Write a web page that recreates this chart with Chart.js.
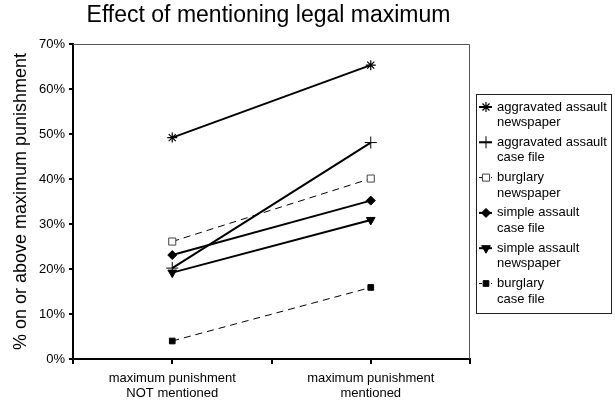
<!DOCTYPE html>
<html>
<head>
<meta charset="utf-8">
<script src="https://cdn.jsdelivr.net/npm/chart.js@4/dist/chart.umd.min.js"></script>
<style>
  body { margin: 0; background: #fff; }
  #wrap { width: 615px; height: 402px; }
</style>
</head>
<body>
<div id="wrap"><canvas id="chart" width="615" height="402"></canvas></div>
<script>
// --- data ---
const categories = [
    ['maximum punishment', 'NOT mentioned'],
    ['maximum punishment', 'mentioned']
];
const seriesNames = [
    ['aggravated assault', 'newspaper'],
    ['aggravated assault', 'case file'],
    ['burglary', 'newspaper'],
    ['simple assault', 'case file'],
    ['simple assault', 'newspaper'],
    ['burglary', 'case file']
];
const aggravatedNewspaper = [49.2, 65.3];
const aggravatedCaseFile = [20.2, 48.1];
const burglaryNewspaper = [26.1, 40.1];
const simpleCaseFile = [23.1, 35.2];
const simpleNewspaper = [19.2, 30.9];
const burglaryCaseFile = [4.0, 15.9];
const yTicks = [0, 10, 20, 30, 40, 50, 60, 70];

const FONT = '"Liberation Sans", Arial, Helvetica, sans-serif';

// categories sit at x = 1 and x = 3 on a 0..4 axis (ticks between them)
function toPoints(values) {
    return values.map((v, i) => ({ x: i * 2 + 1, y: v }));
}

function makeSet(name, values, style, opts) {
    return Object.assign({
        label: name.join(' '),
        legendLines: name,
        data: toPoints(values),
        borderColor: '#000',
        borderWidth: 2,
        pointStyle: style,
        pointRadius: 5,
        pointBorderColor: '#000',
        pointBackgroundColor: '#000',
        pointBorderWidth: 1
    }, opts || {});
}

const datasets = [
    makeSet(seriesNames[0], aggravatedNewspaper, 'star', { pointRadius: 5, pointBorderWidth: 1.2 }),
    makeSet(seriesNames[1], aggravatedCaseFile, 'cross', { pointRadius: 6, pointBorderWidth: 1 }),
    makeSet(seriesNames[2], burglaryNewspaper, 'rect', {
        borderWidth: 1, borderDash: [7, 5],
        pointRadius: 5, pointBackgroundColor: '#fff', pointBorderColor: '#444'
    }),
    makeSet(seriesNames[3], simpleCaseFile, 'rectRot', { pointRadius: 4.5 }),
    makeSet(seriesNames[4], simpleNewspaper, 'triangle', { pointRadius: 5, pointRotation: 180 }),
    makeSet(seriesNames[5], burglaryCaseFile, 'rect', {
        borderWidth: 1, borderDash: [7, 5], pointRadius: 4
    })
];

// title, plot frame and the boxed legend
const decor = {
    id: 'decor',
    beforeDatasetsDraw(chart) {
        const { ctx, chartArea: a } = chart;
        ctx.save();
        ctx.strokeStyle = '#555';
        ctx.lineWidth = 1;
        ctx.beginPath();
        ctx.moveTo(a.left, a.top + 0.5);
        ctx.lineTo(a.right - 0.5, a.top + 0.5);
        ctx.lineTo(a.right - 0.5, a.bottom);
        ctx.stroke();
        ctx.restore();
    },
    afterDraw(chart) {
        const { ctx, chartArea: a } = chart;
        ctx.save();
        ctx.fillStyle = '#000';
        ctx.font = '23px ' + FONT;
        ctx.textAlign = 'center';
        ctx.textBaseline = 'middle';
        ctx.fillText('Effect of mentioning legal maximum', (a.left + a.right) / 2 - 3, 16);

        // legend
        const bx = 476.5, by = 94.5, bw = 135, bh = 219;
        const whole = { left: 0, top: 0, right: chart.width, bottom: chart.height };
        ctx.strokeStyle = '#222';
        ctx.lineWidth = 1;
        ctx.strokeRect(bx, by, bw, bh);
        ctx.font = '13px ' + FONT;
        ctx.textAlign = 'left';
        chart.data.datasets.forEach((ds, i) => {
            const y = 107 + i * 35.3;
            ctx.save();
            ctx.strokeStyle = '#000';
            ctx.lineWidth = ds.borderWidth;
            ctx.setLineDash(ds.borderDash ? [3, 3] : []);
            ctx.beginPath();
            ctx.moveTo(479, y);
            ctx.lineTo(492, y);
            ctx.stroke();
            ctx.restore();
            // reuse the dataset's own point element as the legend marker
            const el = chart.getDatasetMeta(i).data[0];
            if (el) {
                const ox = el.x, oy = el.y;
                el.x = 486;
                el.y = y;
                ctx.save();
                el.draw(ctx, whole);
                ctx.restore();
                el.x = ox;
                el.y = oy;
            }
            ctx.fillStyle = '#000';
            ctx.font = '13px ' + FONT;
            ctx.textAlign = 'left';
            ctx.textBaseline = 'middle';
            ds.legendLines.forEach((t, j) => ctx.fillText(t, 497, y + j * 15.5));
        });
        ctx.restore();
    }
};

new Chart(document.getElementById('chart'), {
    type: 'line',
    data: { datasets },
    options: {
        responsive: false,
        animation: false,
        layout: { padding: { top: 44, right: 145, left: 0, bottom: 0 } },
        plugins: {
            legend: { display: false },
            title: { display: false },
            tooltip: { enabled: false }
        },
        scales: {
            x: {
                type: 'linear',
                min: 0,
                max: 4,
                afterBuildTicks(scale) {
                    scale.ticks = [0, 1, 2, 3, 4].map(v => ({ value: v }));
                },
                afterFit(scale) { scale.height = 43; },
                ticks: {
                    autoSkip: false,
                    maxRotation: 0,
                    padding: 7,
                    color: '#000',
                    font: { family: FONT, size: 13, lineHeight: 1.15 },
                    callback: (v) => (v % 2 === 1 ? categories[(v - 1) / 2] : '')
                },
                grid: {
                    drawOnChartArea: false,
                    tickLength: 5,
                    lineWidth: 2,
                    color: '#000'
                },
                border: { color: '#000', width: 2 }
            },
            y: {
                min: 0,
                max: 70,
                afterBuildTicks(scale) {
                    scale.ticks = yTicks.map(v => ({ value: v }));
                },
                afterFit(scale) { scale.width = 73; },
                ticks: {
                    padding: 4,
                    color: '#000',
                    font: { family: FONT, size: 13 },
                    callback: (v) => v + '%'
                },
                grid: {
                    drawOnChartArea: false,
                    tickLength: 4,
                    lineWidth: 2,
                    color: '#000'
                },
                border: { color: '#000', width: 2 },
                title: {
                    display: true,
                    text: '% on or above maximum punishment',
                    color: '#000',
                    font: { family: FONT, size: 18 },
                    padding: { top: 10, bottom: 0 }
                }
            }
        }
    },
    plugins: [decor]
});
</script>
</body>
</html>
